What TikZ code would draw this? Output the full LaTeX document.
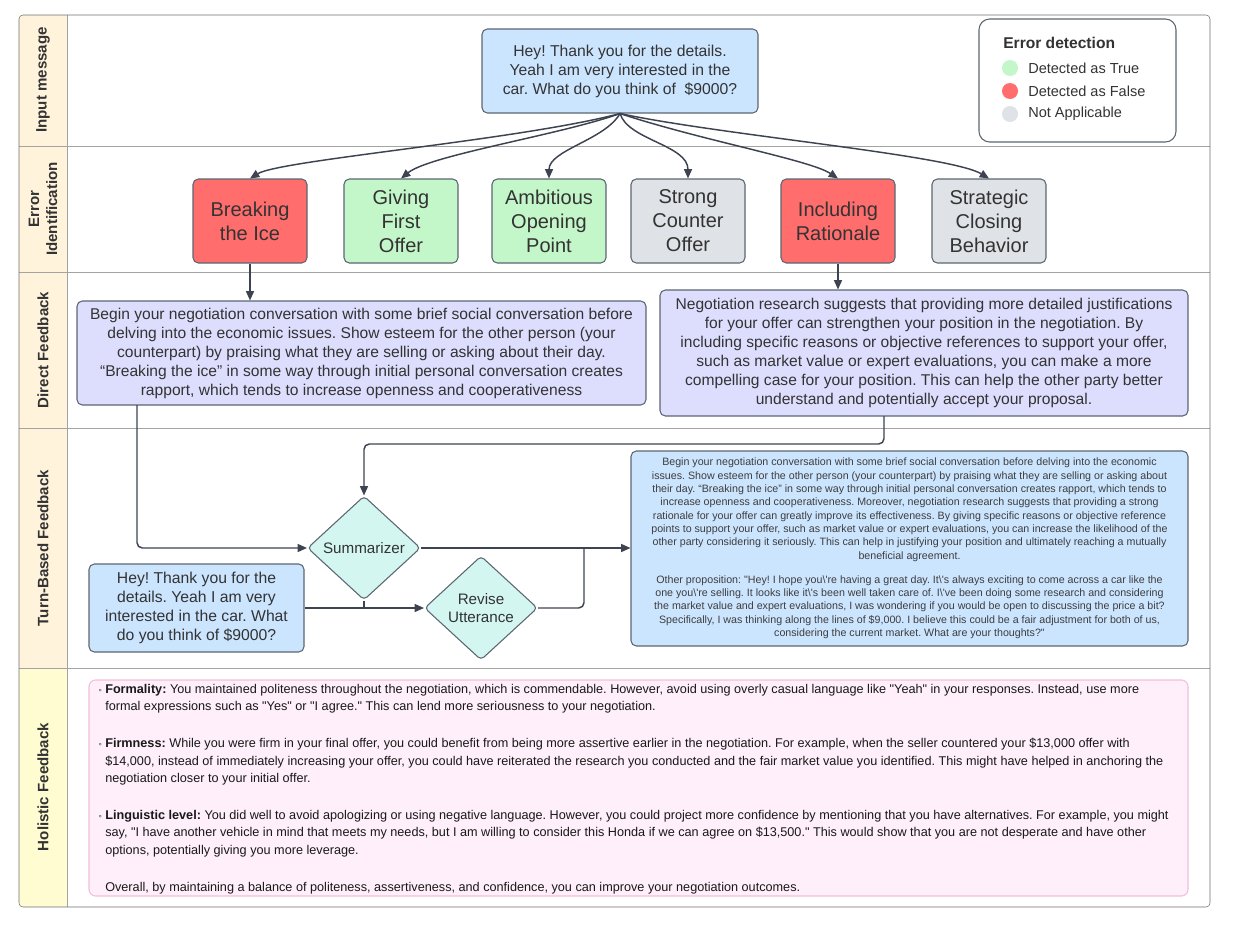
\documentclass[tikz,border=0pt]{standalone}
\usepackage{fontspec}
\setmainfont{Liberation Sans}[Ligatures=TeXOff]
\usetikzlibrary{arrows.meta,shapes.geometric}
\frenchspacing
\definecolor{lane}{HTML}{FFF3DC}
\definecolor{lanehol}{HTML}{FFFCD2}
\definecolor{frame}{HTML}{6E6E6E}
\definecolor{sep}{HTML}{A3A3A3}
\definecolor{ink}{HTML}{333333}
\definecolor{wire}{HTML}{3D4350}
\definecolor{boxline}{HTML}{5C6672}
\definecolor{msgblue}{HTML}{CCE5FF}
\definecolor{falsered}{HTML}{FF6D6D}
\definecolor{truegreen}{HTML}{C3F6C9}
\definecolor{nagray}{HTML}{DFE2E6}
\definecolor{fblav}{HTML}{DDDDFD}
\definecolor{summcyan}{HTML}{D3F6F1}
\definecolor{holpink}{HTML}{FEEFFA}
\definecolor{holedge}{HTML}{F5BDD6}

\begin{document}
\begin{tikzpicture}[x=0.75pt,y=-0.75pt,
	box/.style={draw=boxline,line width=0.8pt,rounded corners=4pt,text=ink,align=center,inner sep=0pt},
	errbox/.style={box,minimum width=85.5pt,minimum height=63pt,font=\fontsize{15}{18}\selectfont},
	msgbox/.style={box,fill=msgblue,font=\fontsize{11.8}{14.25}\selectfont},
	fbbox/.style={box,fill=fblav,font=\fontsize{11.7}{14.25}\selectfont},
	decide/.style={diamond,draw=boxline,line width=0.8pt,rounded corners=3pt,fill=summcyan,text=ink,align=center,inner sep=0pt,minimum width=84.75pt,minimum height=78pt,font=\fontsize{11.4}{13.9}\selectfont},
	flow/.style={draw=wire,line width=1.1pt,-{Triangle[length=7pt,width=6pt]}},
	wireonly/.style={draw=wire,line width=1.1pt},
	lanelabel/.style={rotate=90,font=\bfseries\fontsize{11.3}{13.5}\selectfont,text=ink,align=center},
	legendtext/.style={anchor=west,text=ink,font=\fontsize{10.9}{13}\selectfont,inner sep=0pt},
	dot/.style={circle,draw=none,minimum size=12pt,inner sep=0pt}]
	\useasboundingbox (0,0) rectangle (1235,932);
	\begin{scope}
		\clip[rounded corners=3pt] (19,15) rectangle (1210,907);
		\fill[lane] (19,15) rectangle (67,668);
		\fill[lanehol] (19,668) rectangle (67,907);
	\end{scope}
	\draw[sep] (19,146) -- (1210,146);
	\draw[sep] (19,272) -- (1210,272);
	\draw[sep] (19,428) -- (1210,428);
	\draw[sep] (19,668) -- (1210,668);
	\draw[sep] (67,15) -- (67,907);
	\draw[frame,rounded corners=3pt] (19,15) rectangle (1210,907);
	\node[lanelabel] (lanein) at (43,80) {Input message};
	\node[lanelabel] (laneerr) at (43,209) {Error\\Identification};
	\node[lanelabel] (lanedir) at (43,350) {Direct Feedback};
	\node[lanelabel] (laneturn) at (43,548) {Turn-Based Feedback};
	\node[lanelabel] (lanehol) at (43,787) {Holistic Feedback};

	\node[msgbox,minimum width=207pt,minimum height=63pt] (msg) at (620,71) {Hey! Thank you for the details.\\Yeah I am very interested in the\\car. What do you think of \ \$9000?};

	\node[box,draw=boxline,fill=white,rounded corners=8pt,minimum width=147.75pt,minimum height=92.25pt] (legend) at (1077.5,80.5) {};
	\node[legendtext,font=\bfseries\fontsize{11.7}{14}\selectfont] (legtitle) at (1003,43) {Error detection};
	\node[dot,fill=truegreen] (dottrue) at (1010,68) {};
	\node[dot,fill=falsered] (dotfalse) at (1010,91) {};
	\node[dot,fill=nagray] (dotna) at (1010,114) {};
	\node[legendtext] (legtrue) at (1028,68) {Detected as True};
	\node[legendtext] (legfalse) at (1028,91) {Detected as False};
	\node[legendtext] (legna) at (1028,114) {Not Applicable};

	\node[errbox,fill=falsered] (bi) at (250,221) {Breaking\\the Ice};
	\node[errbox,fill=truegreen] (gfo) at (401,221) {Giving\\First\\Offer};
	\node[errbox,fill=truegreen] (aop) at (549,221) {Ambitious\\Opening\\Point};
	\node[errbox,fill=nagray] (sco) at (688,221) {Strong\\Counter\\Offer};
	\node[errbox,fill=falsered] (ir) at (838,221) {Including\\Rationale};
	\node[errbox,fill=nagray] (scb) at (989,221) {Strategic\\Closing\\Behavior};

	\draw[flow] (msg.south) .. controls (520,140) and (280,160) .. (bi.north);
	\draw[flow] (msg.south) .. controls (560,135) and (430,155) .. (gfo.north);
	\draw[flow] (msg.south) .. controls (605,140) and (549,150) .. (aop.north);
	\draw[flow] (msg.south) .. controls (628,140) and (688,145) .. (sco.north);
	\draw[flow] (msg.south) .. controls (700,140) and (810,160) .. (ir.north);
	\draw[flow] (msg.south) .. controls (720,135) and (950,155) .. (scb.north);

	\node[fbbox,minimum width=426.75pt,minimum height=78pt] (df1) at (361.5,353) {Begin your negotiation conversation with some brief social conversation before\\delving into the economic issues. Show esteem for the other person (your\\counterpart) by praising what they are selling or asking about their day.\\“Breaking the ice” in some way through initial personal conversation creates\\rapport, which tends to increase openness and cooperativeness};
	\node[fbbox,minimum width=396pt,minimum height=94.5pt] (df2) at (924,353) {Negotiation research suggests that providing more detailed justifications\\for your offer can strengthen your position in the negotiation. By\\including specific reasons or objective references to support your offer,\\such as market value or expert evaluations, you can make a more\\compelling case for your position. This can help the other party better\\understand and potentially accept your proposal.};
	\draw[flow] (bi.south) -- (bi.south |- df1.north);
	\draw[flow] (ir.south) -- (ir.south |- df2.north);

	\node[decide] (summ) at (364,548) {Summarizer};
	\node[decide] (rev) at (481,608) {Revise\\Utterance};
	\node[msgbox,minimum width=161.25pt,minimum height=66pt] (turnmsg) at (196.5,608) {Hey! Thank you for the\\details. Yeah I am very\\interested in the car. What\\do you think of \$9000?};
	\node[box,fill=msgblue,minimum width=417.75pt,minimum height=146.25pt,text=ink!95,font=\fontsize{8}{10}\selectfont] (tbf) at (909.5,548.5) {Begin your negotiation conversation with some brief social conversation before delving into the economic\\issues. Show esteem for the other person (your counterpart) by praising what they are selling or asking about\\their day. “Breaking the ice” in some way through initial personal conversation creates rapport, which tends to\\increase openness and cooperativeness. Moreover, negotiation research suggests that providing a strong\\rationale for your offer can greatly improve its effectiveness. By giving specific reasons or objective reference\\points to support your offer, such as market value or expert evaluations, you can increase the likelihood of the\\other party considering it seriously. This can help in justifying your position and ultimately reaching a mutually\\beneficial agreement.\\[8pt]Other proposition: "Hey! I hope you\textbackslash're having a great day. It\textbackslash's always exciting to come across a car like the\\one you\textbackslash're selling. It looks like it\textbackslash's been well taken care of. I\textbackslash've been doing some research and considering\\the market value and expert evaluations, I was wondering if you would be open to discussing the price a bit?\\Specifically, I was thinking along the lines of \$9,000. I believe this could be a fair adjustment for both of us,\\considering the current market. What are your thoughts?"};

	\coordinate (dfa) at (137,405);
	\coordinate (dfb) at (884,416);
	\coordinate (join) at (584,548);
	\draw[flow,rounded corners=4pt] (dfa) |- (summ.west);
	\draw[flow,rounded corners=4pt] (dfb) -- ++(0,28) -| (summ.north);
	\draw[flow] (turnmsg.east) -- (rev.west);
	\draw[wireonly] (summ.south) -- (summ.south |- turnmsg.east);
	\draw[flow] (summ.east) -- (summ.east -| tbf.west);
	\draw[wireonly,rounded corners=4pt] (rev.east) -| (join);

	\node[box,draw=holedge,fill=holpink,rounded corners=5pt,minimum width=824.25pt,minimum height=162pt] (hol) at (638.5,788) {};
	\node[anchor=west,align=left,inner sep=0pt,text=black!90,font=\fontsize{9.5}{13.1}\selectfont] (holtext) at (105,789) {\llap{{\fontsize{7}{7}\selectfont ◦}\hspace{2.5pt}}\textbf{Formality:} You maintained politeness throughout the negotiation, which is commendable. However, avoid using overly casual language like "Yeah" in your responses. Instead, use more\\formal expressions such as "Yes" or "I agree." This can lend more seriousness to your negotiation.\\[14.5pt]\llap{{\fontsize{7}{7}\selectfont ◦}\hspace{2.5pt}}\textbf{Firmness:} While you were firm in your final offer, you could benefit from being more assertive earlier in the negotiation. For example, when the seller countered your \$13,000 offer with\\\$14,000, instead of immediately increasing your offer, you could have reiterated the research you conducted and the fair market value you identified. This might have helped in anchoring the\\negotiation closer to your initial offer.\\[14.5pt]\llap{{\fontsize{7}{7}\selectfont ◦}\hspace{2.5pt}}\textbf{Linguistic level:} You did well to avoid apologizing or using negative language. However, you could project more confidence by mentioning that you have alternatives. For example, you might\\say, "I have another vehicle in mind that meets my needs, but I am willing to consider this Honda if we can agree on \$13,500." This would show that you are not desperate and have other\\options, potentially giving you more leverage.\\[14.5pt]Overall, by maintaining a balance of politeness, assertiveness, and confidence, you can improve your negotiation outcomes.};
\end{tikzpicture}
\end{document}
